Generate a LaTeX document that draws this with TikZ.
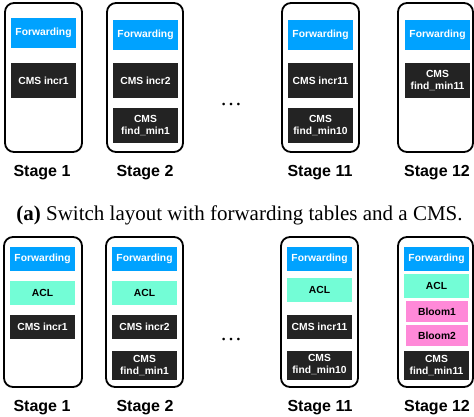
\documentclass[tikz,border=0pt]{standalone}
\usepackage{fontspec}
\setmainfont{Liberation Serif}
\newfontfamily\boxfont{Liberation Sans}
\definecolor{fwdblue}{HTML}{00A2FF}
\definecolor{aclgreen}{HTML}{73FDD6}
\definecolor{bloompink}{HTML}{FF89D8}
\definecolor{cmsdark}{HTML}{232323}
\begin{document}
\begin{tikzpicture}[x=1pt,y=-1pt,
  stagebox/.style={draw=black,line width=1.8pt,rounded corners=9pt,inner sep=0pt,minimum width=76pt,minimum height=149pt},
  item/.style={inner sep=0pt,minimum width=65pt,minimum height=30pt,align=center,
     font=\boxfont\bfseries\fontsize{10.3}{12}\selectfont},
  fwd/.style={item,fill=fwdblue,text=white},
  cms/.style={item,fill=cmsdark,text=white},
  acl/.style={item,fill=aclgreen,text=black},
  bloom/.style={item,fill=bloompink,text=black,minimum width=62pt,minimum height=21pt},
  stagelabel/.style={anchor=base,inner sep=0pt,font=\boxfont\bfseries\fontsize{16}{18}\selectfont},
  dotsnode/.style={inner sep=0pt,font=\fontsize{22}{22}\selectfont}
]
\useasboundingbox (0,0) rectangle (474,417);

% ---------- top row ----------
\node[stagebox,minimum width=77pt] (ta1) at (43.5,77.5) {};
\node[stagebox] (ta2) at (145,77.5) {};
\node[stagebox,minimum width=77pt] (ta11) at (320.5,77.5) {};
\node[stagebox,minimum width=75pt] (ta12) at (435.5,77.5) {};

\node[fwd] (tf1) at (43.5,33) {Forwarding};
\node[cms,minimum height=35pt] (tc1) at (43.5,80.5) {CMS incr1};

\node[fwd] (tf2) at (145.5,35) {Forwarding};
\node[cms,minimum height=35pt] (tc2) at (145.5,80.5) {CMS incr2};
\node[cms,minimum height=35pt] (tm2) at (145.5,125.5) {CMS\\find\_min1};

\node[fwd] (tf11) at (320.5,35) {Forwarding};
\node[cms,minimum height=35pt] (tc11) at (320.5,80.5) {CMS incr11};
\node[cms,minimum height=35pt] (tm11) at (320.5,125.5) {CMS\\find\_min10};

\node[fwd] (tf12) at (437.5,35) {Forwarding};
\node[cms,minimum height=35pt] (tm12) at (437.5,80.5) {CMS\\find\_min11};

\node[stagelabel] (tl1) at (42,176.7) {Stage 1};
\node[stagelabel] (tl2) at (145,176.7) {Stage 2};
\node[stagelabel] (tl11) at (320,176.7) {Stage 11};
\node[stagelabel] (tl12) at (437,176.7) {Stage 12};

\node[dotsnode] (tdots) at (231,105) {\ldots};

\node[anchor=base,inner sep=0pt,font=\fontsize{21}{24}\selectfont] (cap) at (239.5,220.5)
  {\textbf{(a)} Switch layout with forwarding tables and a CMS.};

% ---------- bottom row ----------
\node[stagebox,minimum width=78pt,minimum height=150pt] (ba1) at (43,312) {};
\node[stagebox,minimum width=77pt,minimum height=150pt] (ba2) at (144.5,312) {};
\node[stagebox,minimum width=77pt,minimum height=150pt] (ba11) at (319.5,312) {};
\node[stagebox,minimum width=75pt,minimum height=150pt] (ba12) at (435.5,312) {};

\node[fwd,minimum height=24pt] (bf1) at (42.5,259) {Forwarding};
\node[acl,minimum height=24pt] (bacl1) at (42.5,293) {ACL};
\node[cms,minimum height=24pt] (bc1) at (42.5,327) {CMS incr1};

\node[fwd,minimum height=24pt] (bf2) at (144.5,259) {Forwarding};
\node[acl,minimum height=24pt] (bacl2) at (144.5,293) {ACL};
\node[cms,minimum height=24pt] (bc2) at (144.5,327) {CMS incr2};
\node[cms,minimum height=29pt] (bm2) at (144.5,365.5) {CMS\\find\_min1};

\node[fwd,minimum height=24pt] (bf11) at (319.5,259) {Forwarding};
\node[acl,minimum height=24pt] (bacl11) at (319.5,290) {ACL};
\node[cms,minimum height=24pt] (bc11) at (319.5,326.5) {CMS incr11};
\node[cms,minimum height=29pt] (bm11) at (319.5,365) {CMS\\find\_min10};

\node[fwd,minimum height=24pt] (bf12) at (436.5,259) {Forwarding};
\node[acl,minimum height=24pt] (bacl12) at (436.5,286) {ACL};
\node[bloom] (bb1) at (437,311.5) {Bloom1};
\node[bloom] (bb2) at (437,335.5) {Bloom2};
\node[cms,minimum height=29pt] (bm12) at (436.5,365.5) {CMS\\find\_min11};

\node[stagelabel] (bl1) at (42,411.5) {Stage 1};
\node[stagelabel] (bl2) at (145,411.5) {Stage 2};
\node[stagelabel] (bl11) at (320,411.5) {Stage 11};
\node[stagelabel] (bl12) at (437,411.5) {Stage 12};

\node[dotsnode] (bdots) at (231,340) {\ldots};
\end{tikzpicture}
\end{document}
